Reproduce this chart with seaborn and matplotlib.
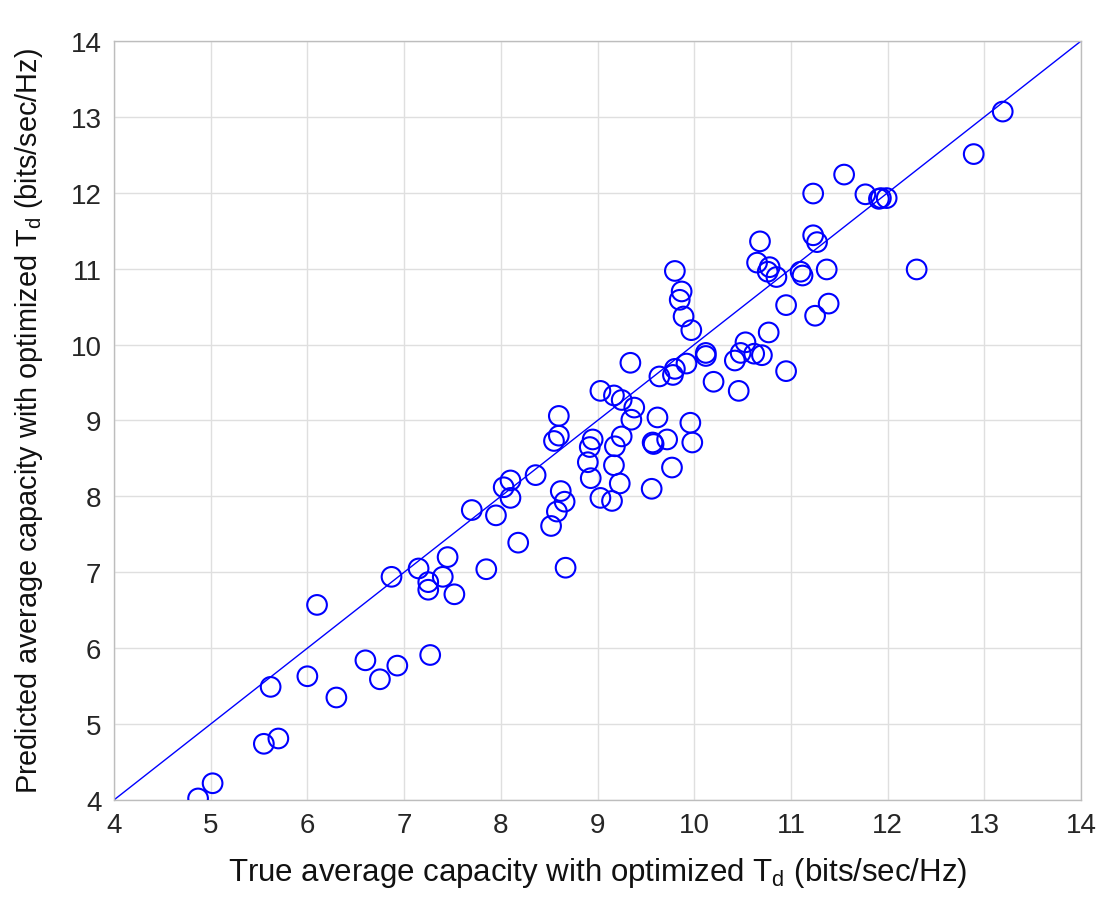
import matplotlib
matplotlib.use("Agg")
import matplotlib.pyplot as plt
import seaborn as sns
import pandas as pd

# true vs predicted average capacity (bits/sec/Hz)
true_cap = [4.87, 5.02, 5.55, 5.70, 5.62, 6.00, 6.10, 6.30, 6.60, 6.75,
            6.93, 6.87, 7.15, 7.25, 7.25, 7.27, 7.40, 7.45, 7.52, 7.70,
            7.85, 7.95, 8.03, 8.10, 8.10, 8.18, 8.36, 8.52, 8.55, 8.60,
            8.60, 8.58, 8.62, 8.66, 8.67, 8.90, 8.92, 8.93, 8.95, 9.03,
            9.03, 9.15, 9.17, 9.17, 9.18, 9.23, 9.25, 9.25, 9.34, 9.35,
            9.38, 9.56, 9.57, 9.58, 9.62, 9.64, 9.72, 9.77, 9.78, 9.80,
            9.80, 9.85, 9.87, 9.89, 9.92, 9.96, 9.97, 9.98, 10.12, 10.12,
            10.20, 10.42, 10.46, 10.48, 10.53, 10.62, 10.65, 10.68, 10.70, 10.76,
            10.78, 10.77, 10.85, 10.95, 10.95, 11.10, 11.12, 11.23, 11.23, 11.25,
            11.27, 11.37, 11.39, 11.55, 11.77, 11.91, 11.93, 11.99, 12.30, 12.89,
            13.19]
pred_cap = [4.02, 4.22, 4.74, 4.81, 5.49, 5.63, 6.57, 5.35, 5.84, 5.59,
            5.77, 6.94, 7.05, 6.87, 6.77, 5.91, 6.94, 7.20, 6.71, 7.82,
            7.04, 7.75, 8.12, 8.21, 7.98, 7.39, 8.28, 7.61, 8.73, 8.80,
            9.06, 7.80, 8.07, 7.93, 7.06, 8.45, 8.65, 8.24, 8.75, 9.39,
            7.98, 7.94, 9.33, 8.41, 8.66, 8.17, 8.79, 9.27, 9.76, 9.01,
            9.17, 8.10, 8.71, 8.69, 9.04, 9.58, 8.75, 8.38, 9.60, 9.68,
            10.97, 10.59, 10.70, 10.37, 9.75, 8.97, 10.19, 8.71, 9.89, 9.85,
            9.51, 9.79, 9.39, 9.89, 10.03, 9.88, 11.08, 11.36, 9.86, 10.96,
            11.02, 10.16, 10.89, 10.52, 9.65, 10.96, 10.91, 11.44, 11.99, 10.38,
            11.35, 10.99, 10.54, 12.24, 11.98, 11.92, 11.93, 11.93, 10.99, 12.51,
            13.07]
ref_line = [4, 14]
ticks = list(range(4, 15))

df = pd.DataFrame({"true": true_cap, "pred": pred_cap})

sns.set_style("white")
plt.rcParams["font.family"] = ["Liberation Sans", "DejaVu Sans"]
plt.rcParams["mathtext.default"] = "regular"

fig = plt.figure(figsize=(11.02, 9.03), dpi=100)
ax = fig.add_axes([0.1034, 0.113, 0.8776, 0.8405])

sns.lineplot(x=ref_line, y=ref_line, color="#0000ff", linewidth=1.0, ax=ax)
sns.scatterplot(data=df, x="true", y="pred", marker="o", s=200,
                facecolor="none", edgecolor="#0000ff", linewidth=1.5, ax=ax, zorder=3)

ax.set_xlim(4, 14)
ax.set_ylim(4, 14)
ax.set_xticks(ticks)
ax.set_yticks(ticks)
ax.grid(True, color="#dfdfdf", linewidth=1.0)
ax.set_axisbelow(True)
for sp in ax.spines.values():
    sp.set_color("#bdbdbd")
    sp.set_linewidth(1.0)
ax.tick_params(direction="in", length=6, color="#888888", labelsize=20, labelcolor="#262626",
               top=False, right=False, pad=9)

ax.set_xlabel("True average capacity with optimized T$_{d}$ (bits/sec/Hz)",
              fontsize=22.5, color="#111111", labelpad=12)
ax.set_ylabel("Predicted average capacity with optimized T$_{d}$ (bits/sec/Hz)",
              fontsize=20.8, color="#111111", labelpad=18)

fig.savefig("out.png", dpi=100)
